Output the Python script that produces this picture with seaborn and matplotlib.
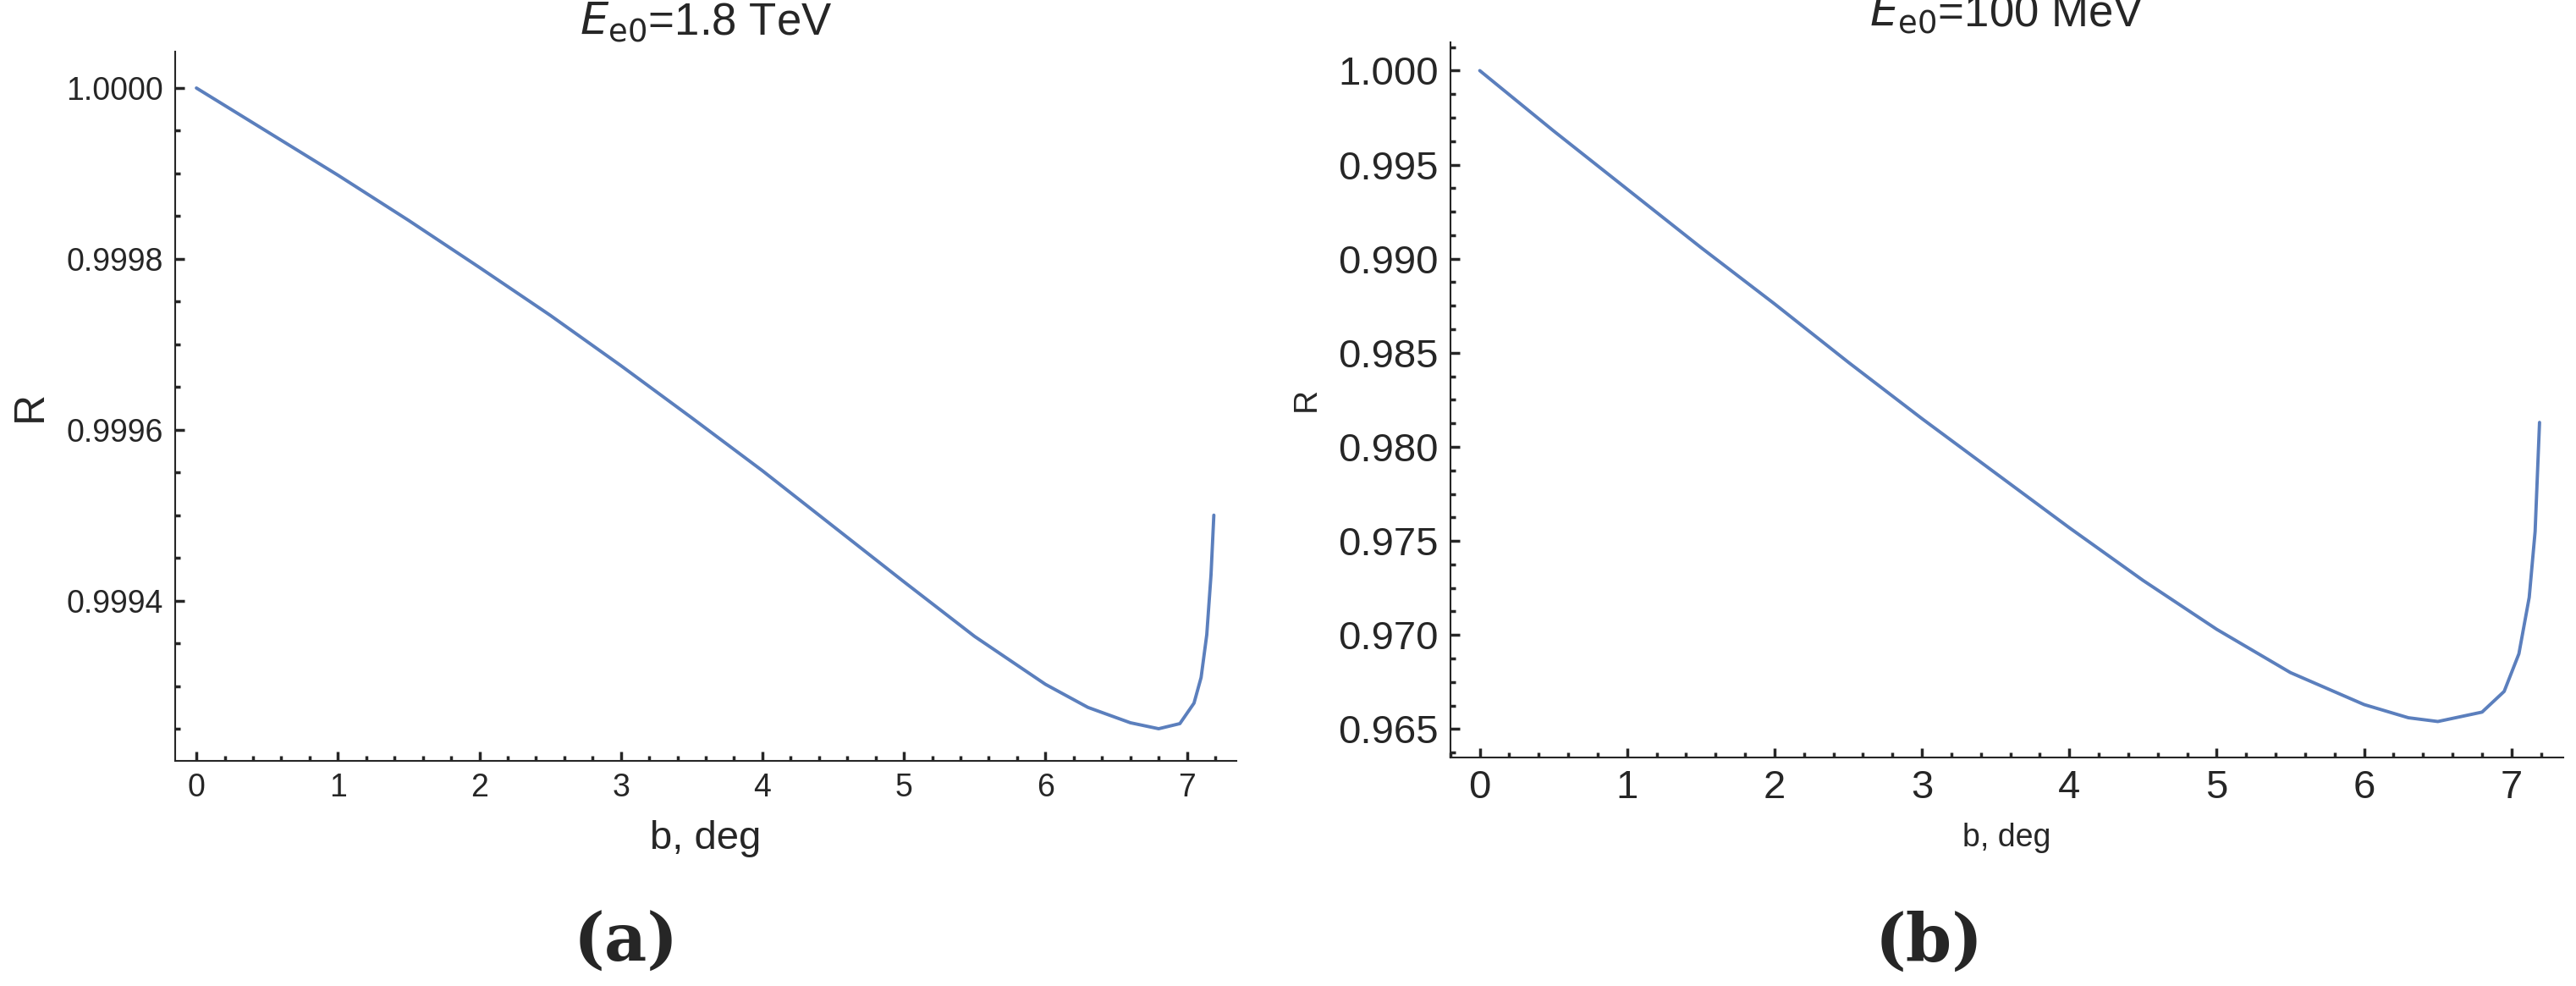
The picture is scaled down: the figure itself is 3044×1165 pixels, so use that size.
import numpy as np
import pandas as pd
import matplotlib
matplotlib.use('Agg')
import matplotlib.pyplot as plt
import seaborn as sns
from matplotlib.ticker import AutoMinorLocator, FormatStrFormatter

# Values
b_a = [0, 0.5, 1, 1.5, 2, 2.5, 3, 3.5, 4, 4.5, 5, 5.5, 6, 6.3, 6.6, 6.8, 6.95, 7.05, 7.1, 7.14, 7.17, 7.19]
r_a = [1.0, 0.999949, 0.999898, 0.999845, 0.999790, 0.999734, 0.999675, 0.999614, 0.999552,
       0.999487, 0.999422, 0.999358, 0.999302, 0.999275, 0.999257, 0.999250, 0.999256,
       0.99928, 0.99931, 0.99936, 0.99943, 0.99950]
b_b = [0, 0.5, 1, 1.5, 2, 2.5, 3, 3.5, 4, 4.5, 5, 5.5, 6, 6.3, 6.5, 6.8, 6.95, 7.05, 7.12, 7.16, 7.19]
r_b = [1.0, 0.9968, 0.9937, 0.9906, 0.9876, 0.9845, 0.9815, 0.9786, 0.9757, 0.9729,
       0.9703, 0.9680, 0.9663, 0.9656, 0.9654, 0.9659, 0.9670, 0.9690, 0.9720, 0.9755, 0.9813]

sns.set_style('ticks')
plt.rcParams['font.family'] = ['Liberation Sans', 'DejaVu Sans']
line_color = '#5b7fbd'

fig = plt.figure(figsize=(30.44, 11.65), dpi=100)
ax1 = fig.add_axes([0.068, 0.228, 0.412, 0.72])
ax2 = fig.add_axes([0.563, 0.232, 0.432, 0.725])

sns.lineplot(x=b_a, y=r_a, ax=ax1, color=line_color, linewidth=2.8)
sns.lineplot(x=b_b, y=r_b, ax=ax2, color=line_color, linewidth=2.8)

ax1.set_xlim(-0.15, 7.35)
ax1.set_ylim(0.999212, 1.000043)
ax1.set_yticks([0.9994, 0.9996, 0.9998, 1.0])
ax1.yaxis.set_major_formatter(FormatStrFormatter('%.4f'))
ax2.set_xlim(-0.2, 7.35)
ax2.set_ylim(0.9635, 1.0015)
ax2.set_yticks(np.arange(0.965, 1.0001, 0.005))
ax2.yaxis.set_major_formatter(FormatStrFormatter('%.3f'))

for ax, fs in [(ax1, 27), (ax2, 34)]:
    ax.set_xticks(range(0, 8))
    ax.xaxis.set_minor_locator(AutoMinorLocator(5))
    ax.yaxis.set_minor_locator(AutoMinorLocator(4))
    ax.tick_params(which='major', direction='in', length=8, width=2.5, labelsize=fs, pad=10)
    ax.tick_params(which='minor', direction='in', length=4, width=2.5)
    for s in ['top', 'right']:
        ax.spines[s].set_visible(False)
    ax.spines['left'].set_linewidth(1.5)
    ax.spines['bottom'].set_linewidth(1.5)

ax1.set_xlabel('b, deg', fontsize=34, labelpad=14)
ax1.set_ylabel('R', fontsize=36, labelpad=14)
ax2.set_xlabel('b, deg', fontsize=27, labelpad=14)
ax2.set_ylabel('R', fontsize=28, labelpad=14)
ax1.set_title(r'$E_{\mathrm{e0}}$=1.8 TeV', fontsize=38, pad=14)
ax2.set_title(r'$E_{\mathrm{e0}}$=100 MeV', fontsize=38, pad=14)

fig.text(0.243, 0.025, '(a)', fontsize=56, fontweight='bold', family='DejaVu Serif', ha='center')
fig.text(0.749, 0.025, '(b)', fontsize=56, fontweight='bold', family='DejaVu Serif', ha='center')

fig.savefig('out.png', dpi=100)
